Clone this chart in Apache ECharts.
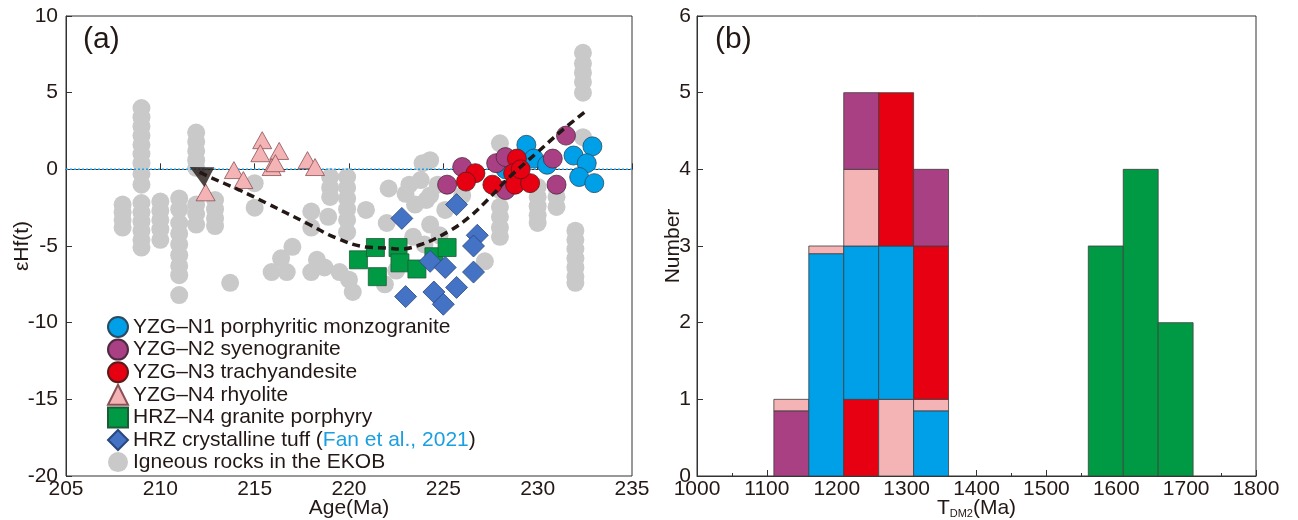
<!DOCTYPE html>
<html>
<head>
<meta charset="utf-8">
<script src="https://cdn.jsdelivr.net/npm/echarts@6/dist/echarts.min.js"></script>
<style>
  html, body { margin: 0; padding: 0; background: #fff; }
  #chart { width: 1298px; height: 520px; }
</style>
</head>
<body>
<div id="chart"></div>
<script>
// ---- Panel (a): zircon εHf(t) versus age ----
const ageRange = [205, 235];
const hfRange = [-20, 10];

const n1Points = [[229.4, 1.6], [229.8, 0.7], [230.5, 0.3], [228.3, 0.0], [231.9, 0.9],
  [232.9, 1.5], [232.6, 0.4], [232.2, -0.5], [233.0, -0.9]];
const n2Points = [[226.0, 0.15], [225.2, -1.0], [227.8, 0.4], [228.3, 0.8], [228.3, -1.35],
  [230.8, 0.7], [231.0, -1.0], [231.5, 2.2]];
const n3Points = [[226.7, -0.25], [226.2, -0.8], [228.9, 0.7], [228.7, -0.25], [227.6, -1.0],
  [228.8, -1.0], [229.6, -0.9], [229.1, 0.0]];
const n4Points = [[212.4, -1.5], [213.9, -0.05], [214.4, -0.7], [215.4, 1.9], [215.3, 1.05],
  [216.3, 1.2], [215.9, 0.15], [216.1, 0.4], [217.8, 0.6], [218.2, 0.15]];
const hrzN4Points = [[220.5, -5.9], [221.4, -5.1], [221.5, -7.0], [222.6, -5.1], [222.7, -6.1],
  [223.6, -6.5], [224.5, -5.7], [225.2, -5.1]];
const tuffPoints = [[222.8, -3.2], [225.7, -2.3], [223.0, -8.3], [224.3, -6.0], [225.1, -6.4],
  [226.8, -4.3], [226.6, -5.0], [226.6, -6.7], [225.7, -7.7], [224.5, -8.0], [225.0, -8.8]];
const ekobPoints = [
  [208.0, -2.3], [208.0, -2.8], [208.0, -3.3], [208.0, -3.8],
  [209.0, 4.0], [209.0, 3.4], [209.0, 2.8], [209.0, 2.2], [209.0, 1.6], [209.0, 1.0],
  [209.0, 0.4], [209.0, -0.3], [209.0, -1.0], [209.0, -2.2], [209.0, -2.8], [209.0, -3.4],
  [209.0, -4.0], [209.0, -4.6], [209.0, -5.1],
  [210.0, -2.1], [210.0, -2.7], [210.0, -3.3], [210.0, -3.9], [210.0, -4.6],
  [211.0, -1.9], [211.0, -2.6], [211.0, -3.5], [211.0, -4.2], [211.0, -4.9], [211.0, -5.6],
  [211.0, -6.3], [211.0, -6.9], [211.0, -8.2],
  [211.9, 2.4], [211.9, 1.8], [211.9, 1.2], [211.9, 0.6], [211.9, 0.1],
  [211.9, -2.3], [211.9, -2.9], [211.9, -3.6],
  [212.9, -2.0], [212.9, -2.6], [212.9, -3.2], [212.9, -3.7],
  [213.7, -7.4], [215.0, -0.9], [215.0, -2.5],
  [217.0, -5.05], [216.4, -5.8], [215.9, -6.7], [216.7, -6.7],
  [218.0, -2.75], [218.0, -3.8], [218.9, -3.1],
  [219.0, -0.5], [219.0, -1.2], [219.0, -1.8],
  [219.9, -0.5], [219.9, -1.2], [219.9, -1.9], [219.9, -2.6], [219.9, -3.3], [219.9, -4.1],
  [218.3, -5.9], [218.7, -6.4], [218.0, -6.7], [219.5, -6.7], [220.2, -8.0], [220.0, -7.2],
  [220.9, -2.65], [222.1, -1.25], [222.0, -3.5], [223.0, -1.6], [223.9, 0.4], [223.8, -0.7],
  [224.1, -2.0], [223.4, -4.4], [222.5, -6.6], [221.9, -7.5],
  [223.2, -1.0], [223.5, -2.3], [224.7, -1.0], [224.3, -1.7], [225.1, -2.65], [224.3, -3.6],
  [224.8, -4.3], [224.0, -4.9], [226.0, -1.7], [224.3, 0.6],
  [228.0, 1.7], [228.0, -1.35], [228.0, -2.45], [228.0, -3.1], [228.0, -3.8], [228.0, -4.4],
  [230.0, -1.15], [230.0, -1.8], [230.0, -2.4], [230.0, -3.0], [230.0, -3.5],
  [231.0, -1.2], [231.0, -1.8], [231.0, -2.45],
  [232.0, -4.0], [232.0, -4.6], [232.0, -5.2], [232.0, -5.8], [232.0, -6.4], [232.0, -7.0], [232.0, -7.4],
  [227.2, -6.0],
  [232.4, 7.6], [232.4, 6.9], [232.4, 6.3], [232.4, 5.7], [232.4, 5.0], [232.4, 2.1]
];

// evolution trend (first point carries the arrow head)
const trendAge = [212.08, 212.61, 214.19, 215.62, 217.74, 219.33, 220.92, 221.98, 222.67,
  223.89, 225.32, 226.38, 227.34, 228.51, 229.94, 231.31, 232.64];
const trendHf = [-0.18, -0.50, -1.35, -2.20, -3.50, -4.48, -5.07, -5.13, -5.20,
  -4.87, -4.02, -3.11, -2.00, -0.50, 1.06, 2.56, 3.87];

// ---- Panel (b): T_DM2 histogram ----
const tdmRange = [1000, 1800];
const countRange = [0, 6];
const binStart = [1110, 1160, 1210, 1260, 1310, 1560, 1610, 1660];
const binWidth = 50;
const binGroups = [
  ['N2', 'N4'],
  ['N1', 'N4'],
  ['N3', 'N1', 'N4', 'N2'],
  ['N4', 'N1', 'N3'],
  ['N1', 'N4', 'N3', 'N2'],
  ['HRZ'], ['HRZ'], ['HRZ']
];
const binCounts = [
  [0.85, 0.15],
  [2.9, 0.1],
  [1, 2, 1, 1],
  [1, 2, 2],
  [0.85, 0.15, 2, 1],
  [3], [4], [2]
];

const groupColor = {
  N1: '#00a0e9', N2: '#a94083', N3: '#e60012', N4: '#f4b4b5', HRZ: '#009a44'
};

// stacked segments: [x0, x1, y0, y1, groupIndex]
const groupKeys = Object.keys(groupColor);
const segments = [];
binStart.forEach((x0, i) => {
  let base = 0;
  binGroups[i].forEach((g, j) => {
    const top = base + binCounts[i][j];
    segments.push([x0, x0 + binWidth, base, top, groupKeys.indexOf(g)]);
    base = top;
  });
});

const FONT = "'Liberation Sans', Arial, sans-serif";
const TXT = '#231815';
const FS = 21;

const chart = echarts.init(document.getElementById('chart'), null, { renderer: 'canvas' });

const axisCommon = {
  nameMoveOverlap: false,
  axisLine: { show: true, lineStyle: { color: '#333', width: 1 } },
  axisTick: { show: true, inside: true, length: 6, lineStyle: { color: '#333' } },
  axisLabel: { color: TXT, fontSize: FS, fontFamily: FONT, formatter: v => String(v) },
  splitLine: { show: false },
  nameTextStyle: { color: TXT, fontSize: FS, fontFamily: FONT }
};

function scatter(name, data, symbol, size, color, stroke, z) {
  return {
    name: name, type: 'scatter', xAxisIndex: 0, yAxisIndex: 0,
    data: data, symbol: symbol, symbolSize: size, z: z,
    itemStyle: { color: color, borderColor: stroke, borderWidth: stroke ? 0.8 : 0, opacity: 1 },
    emphasis: { disabled: true }, silent: true
  };
}

const option = {
  animation: false,
  backgroundColor: '#fff',
  title: [
    { text: '(a)', left: 78, top: 20, textStyle: { fontSize: 30, fontWeight: 'normal', color: TXT, fontFamily: FONT } },
    { text: '(b)', left: 710, top: 20, textStyle: { fontSize: 30, fontWeight: 'normal', color: TXT, fontFamily: FONT } }
  ],
  grid: [
    { left: 66, top: 16, width: 566, height: 460, show: true, borderColor: '#333', borderWidth: 1,
      containLabel: false, outerBoundsMode: 'none' },
    { left: 697, top: 16, width: 559, height: 460, show: true, borderColor: '#333', borderWidth: 1,
      containLabel: false, outerBoundsMode: 'none' }
  ],
  xAxis: [
    Object.assign({}, axisCommon, {
      type: 'value', gridIndex: 0, min: ageRange[0], max: ageRange[1], interval: 5,
      name: 'Age(Ma)', nameLocation: 'middle', nameGap: 22,
      axisLabel: Object.assign({}, axisCommon.axisLabel, { margin: 3 })
    }),
    Object.assign({}, axisCommon, {
      type: 'value', gridIndex: 1, min: tdmRange[0], max: tdmRange[1], interval: 100,
      minorTick: { show: true, splitNumber: 2, length: 3, lineStyle: { color: '#333' } },
      name: '{t|T}{s|DM2}{t|(Ma)}', nameLocation: 'middle', nameGap: 22,
      nameTextStyle: {
        color: TXT, fontFamily: FONT,
        rich: {
          t: { fontSize: FS, color: TXT, fontFamily: FONT },
          s: { fontSize: 11, color: TXT, fontFamily: FONT, verticalAlign: 'bottom', padding: [10, 0, 0, 0] }
        }
      },
      axisLabel: Object.assign({}, axisCommon.axisLabel, { margin: 3 })
    })
  ],
  yAxis: [
    Object.assign({}, axisCommon, {
      type: 'value', gridIndex: 0, min: hfRange[0], max: hfRange[1], interval: 5,
      name: 'εHf(t)', nameLocation: 'middle', nameGap: 33, nameRotate: 90,
      axisLabel: Object.assign({}, axisCommon.axisLabel, { margin: 8 })
    }),
    Object.assign({}, axisCommon, {
      type: 'value', gridIndex: 1, min: countRange[0], max: countRange[1], interval: 1,
      name: 'Number', nameLocation: 'middle', nameGap: 13, nameRotate: 90,
      axisLabel: Object.assign({}, axisCommon.axisLabel, { margin: 6 })
    })
  ],
  legend: {
    orient: 'vertical', left: 102, top: 311, itemGap: 0.6,
    itemWidth: 20, itemHeight: 20, selectedMode: false,
    data: [
      'YZG–N1 porphyritic monzogranite', 'YZG–N2 syenogranite', 'YZG–N3 trachyandesite',
      'YZG–N4 rhyolite', 'HRZ–N4 granite porphyry', 'HRZ crystalline tuff (Fan et al., 2021)',
      'Igneous rocks in the EKOB'
    ],
    formatter: function (name) {
      const cite = 'Fan et al., 2021';
      const k = name.indexOf(cite);
      if (k >= 0) {
        return '{t|' + name.slice(0, k) + '}{c|' + cite + '}{t|' + name.slice(k + cite.length) + '}';
      }
      return '{t|' + name + '}';
    },
    textStyle: {
      fontFamily: FONT, fontSize: FS, color: TXT, lineHeight: 21,
      rich: {
        t: { fontSize: FS, color: TXT, fontFamily: FONT, lineHeight: 21 },
        c: { fontSize: FS, color: '#1a9fe0', fontFamily: FONT, lineHeight: 21 }
      }
    }
  },
  series: [
    scatter('Igneous rocks in the EKOB', ekobPoints, 'circle', 18, '#c9c9c9', null, 2),
    {
      name: 'zero', type: 'line', xAxisIndex: 0, yAxisIndex: 0, z: 3, silent: true,
      data: [[ageRange[0], 0], [ageRange[1], 0]], symbol: 'none',
      lineStyle: { color: '#22a3e6', width: 1.5, type: [2, 2] }
    },
    scatter('YZG–N4 rhyolite', n4Points, 'triangle', [19, 17], '#f4b4b5', '#8a5055', 4),
    scatter('HRZ–N4 granite porphyry', hrzN4Points, 'rect', 18, '#009a44', '#1e5a36', 4),
    scatter('HRZ crystalline tuff (Fan et al., 2021)', tuffPoints, 'diamond', 22, '#4472c4', '#29477e', 4),
    scatter('YZG–N1 porphyritic monzogranite', n1Points, 'circle', 19, '#00a0e9', '#2b4a60', 4),
    scatter('YZG–N2 syenogranite', n2Points, 'circle', 19, '#a94083', '#4e2a40', 4),
    scatter('YZG–N3 trachyandesite', n3Points, 'circle', 19, '#e60012', '#5a1a1a', 4),
    {
      name: 'trend', type: 'line', xAxisIndex: 0, yAxisIndex: 0, z: 6, silent: true,
      data: trendAge.map((a, i) => [a, trendHf[i]]), smooth: 0.4, symbol: 'none',
      lineStyle: { color: '#231815', width: 3.5, type: [8, 5] }
    },
    {
      name: 'arrow', type: 'scatter', xAxisIndex: 0, yAxisIndex: 0, z: 7, silent: true,
      data: [[trendAge[0], trendHf[0]]], symbol: 'triangle', symbolSize: [22, 22], symbolRotate: 63,
      itemStyle: { color: '#231815' }
    },
    {
      name: 'tdm2', type: 'custom', xAxisIndex: 1, yAxisIndex: 1, silent: true,
      data: segments,
      renderItem: function (params, api) {
        const p0 = api.coord([api.value(0), api.value(3)]);
        const p1 = api.coord([api.value(1), api.value(2)]);
        return {
          type: 'rect',
          shape: { x: p0[0], y: p0[1], width: p1[0] - p0[0], height: p1[1] - p0[1] },
          style: { fill: groupColor[groupKeys[api.value(4)]], stroke: '#3d3d3d', lineWidth: 0.8 }
        };
      }
    }
  ]
};

chart.setOption(option);
</script>
</body>
</html>
